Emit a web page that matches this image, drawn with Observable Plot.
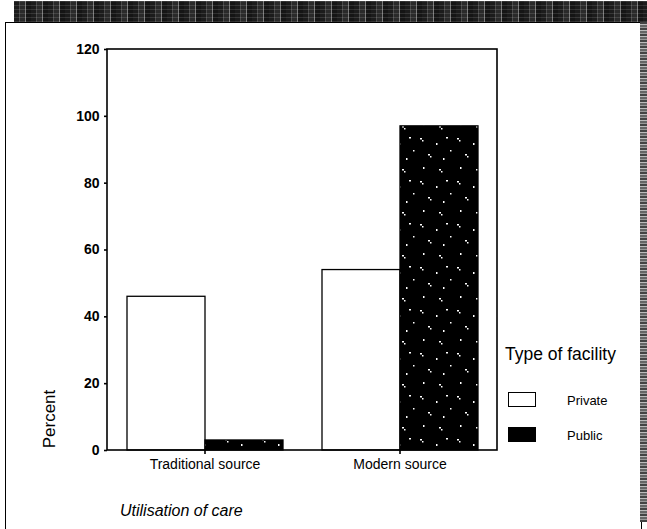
<!DOCTYPE html>
<html>
<head>
<meta charset="utf-8">
<script src="https://cdn.jsdelivr.net/npm/d3@7"></script>
<script src="https://cdn.jsdelivr.net/npm/@observablehq/plot@0.6"></script>
<style>
  html, body { margin: 0; padding: 0; background: #fff; }
  #page { position: relative; width: 647px; height: 529px; overflow: hidden; font-family: "Liberation Sans", Arial, sans-serif; color: #000; }
  #page svg.chart { position: absolute; left: 0; top: 0; }
  #page svg.chart [aria-label^="y-axis"] text { font-size: 14px; font-weight: bold; }
  #page svg.chart [aria-label^="fx-axis"] text { font-size: 14px; }
  #page svg.chart [aria-label$="tick"] { stroke-width: 1.6; }
  .band { position: absolute; left: 14px; top: 1px; width: 633px; height: 21px;
    background: repeating-linear-gradient(90deg, #1c1c1c 0 5px, #4a4a4a 5px 6px, #2a2a2a 6px 11px, #7a7a7a 11px 12px, #151515 12px 17px);
  }
  .band::after { content: ""; position: absolute; inset: 0;
    background: repeating-linear-gradient(0deg, rgba(255,255,255,0.12) 0 1px, rgba(0,0,0,0) 1px 4px); }
  .rstrip { position: absolute; left: 640px; top: 22px; width: 7px; height: 500px;
    background: repeating-linear-gradient(0deg, #444 0 2px, #999 2px 3px, #666 3px 5px, #bbb 5px 6px); }
  .border { position: absolute; left: 5px; top: 22px; width: 635px; height: 520px; border: 1.5px solid #000; border-bottom: none; }
  .ylabel { position: absolute; left: 50px; top: 419px; font-size: 17px; transform: translate(-50%, -50%) rotate(-90deg); white-space: nowrap; }
  .xlabel { position: absolute; left: 120px; top: 502px; font-size: 16px; font-style: italic; white-space: nowrap; }
  .legend-title { position: absolute; left: 505px; top: 344px; font-size: 17.5px; white-space: nowrap; }
  .swatch { position: absolute; left: 508px; width: 26px; height: 13px; border: 1.5px solid #000; }
  .legend-label { position: absolute; left: 567px; font-size: 13px; white-space: nowrap; }
</style>
</head>
<body>
<svg width="0" height="0" style="position:absolute">
  <defs>
    <!-- scanned-print speckle used for the solid "Public" fill -->
    <pattern id="speckle" patternUnits="userSpaceOnUse" width="37" height="43" y="5">
      <rect width="37" height="43" fill="#000"></rect>
      <rect x="3" y="4" width="2" height="1.5" fill="#fff"></rect>
      <rect x="5" y="6" width="1.5" height="1.5" fill="#fff"></rect>
      <rect x="19" y="9" width="1.5" height="2" fill="#fff"></rect>
      <rect x="29" y="3" width="2" height="1.5" fill="#fff"></rect>
      <rect x="11" y="20" width="2" height="1.5" fill="#fff"></rect>
      <rect x="13" y="22" width="1.5" height="1.5" fill="#fff"></rect>
      <rect x="26" y="24" width="1.5" height="2" fill="#fff"></rect>
      <rect x="33" y="16" width="1.5" height="1.5" fill="#fff"></rect>
      <rect x="6" y="33" width="1.5" height="2" fill="#fff"></rect>
      <rect x="22" y="35" width="2" height="1.5" fill="#fff"></rect>
      <rect x="24" y="37" width="1.5" height="1.5" fill="#fff"></rect>
    </pattern>
  </defs>
</svg>
<div id="page">
  <div class="band"></div>
  <div class="border"></div>
  <div class="rstrip"></div>
</div>
<script>
// Utilisation of care by type of facility (percent within each facility type)
const sources = ["Traditional source", "Modern source"];
const facilities = ["Private", "Public"];
const privatePct = [46, 54];
const publicPct = [3, 97];
const yTicks = [0, 20, 40, 60, 80, 100, 120];
const fillColors = ["#fff", "url(#speckle)"];

const data = sources.flatMap((source, i) => [
  {source, facility: facilities[0], value: privatePct[i]},
  {source, facility: facilities[1], value: publicPct[i]}
]);

const W = 647, H = 529;
const chart = Plot.plot({
  width: W,
  height: H,
  marginLeft: 107,
  marginRight: 150,
  marginTop: 49,
  marginBottom: 79,
  style: {background: "transparent", fontFamily: "'Liberation Sans', Arial, sans-serif", color: "#000"},
  fx: {domain: sources, padding: 0, axis: "bottom", label: null, tickSize: 4, tickPadding: 5},
  x: {domain: facilities, axis: null, paddingInner: 0, paddingOuter: 0.25},
  y: {domain: [0, 120], ticks: yTicks, tickSize: 3, tickPadding: 5, label: null},
  color: {domain: facilities, range: fillColors},
  marks: [
    Plot.barY(data, {fx: "source", x: "facility", y: "value", fill: "facility", stroke: "#000", strokeWidth: 1.3})
  ]
});
chart.classList.add("chart");

// plot-area frame spanning both category groups
const ys = chart.scale("y"), fxs = chart.scale("fx");
const [x0, x1] = fxs.range;
d3.select(chart).append("rect")
  .attr("x", x0).attr("y", ys.apply(120))
  .attr("width", x1 - x0).attr("height", ys.apply(0) - ys.apply(120))
  .attr("fill", "none").attr("stroke", "#000").attr("stroke-width", 1.6);

const page = document.getElementById("page");
page.appendChild(chart);

// axis titles
const yl = document.createElement("div");
yl.className = "ylabel"; yl.textContent = "Percent";
page.appendChild(yl);
const xl = document.createElement("div");
xl.className = "xlabel"; xl.textContent = "Utilisation of care";
page.appendChild(xl);

// legend built from the colour scale
const lt = document.createElement("div");
lt.className = "legend-title"; lt.textContent = "Type of facility";
page.appendChild(lt);
const color = chart.scale("color");
const swatchTops = [392, 427];
facilities.forEach((f, i) => {
  const sw = document.createElement("div");
  sw.className = "swatch";
  sw.style.top = swatchTops[i] + "px";
  sw.style.background = color.apply(f) === "#fff" ? "#fff" : "#000";
  page.appendChild(sw);
  const lb = document.createElement("div");
  lb.className = "legend-label";
  lb.style.top = (swatchTops[i] + 1) + "px";
  lb.textContent = f;
  page.appendChild(lb);
});
</script>
</body>
</html>
